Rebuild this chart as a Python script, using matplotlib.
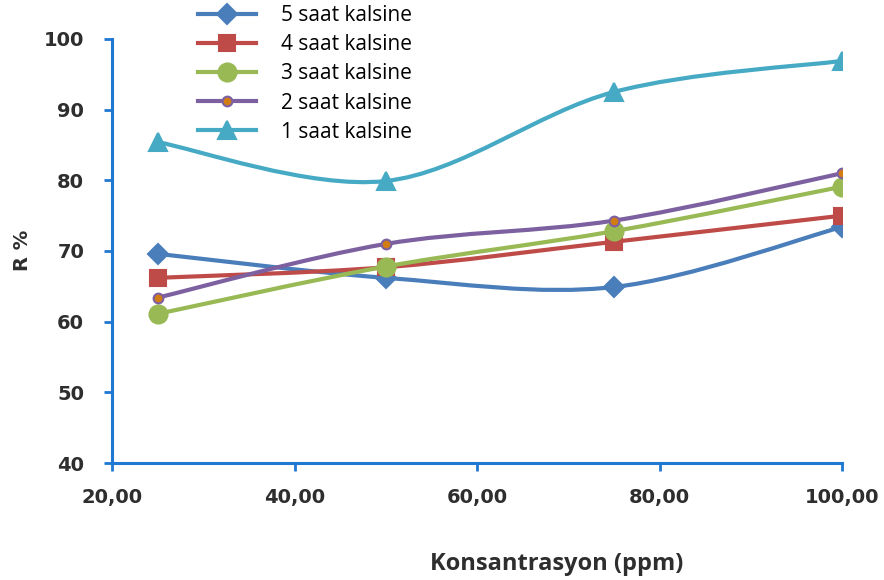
import matplotlib
matplotlib.use("Agg")
import matplotlib.pyplot as plt
import numpy as np
from matplotlib.path import Path
from matplotlib.patches import PathPatch
from matplotlib.lines import Line2D
from matplotlib.ticker import FuncFormatter

# concentration (ppm) and removal R % for each calcination time
konsantrasyon = [25, 50, 75, 100]
saat5 = [69.6, 66.2, 64.9, 73.4]
saat4 = [66.2, 67.7, 71.3, 75.0]
saat3 = [61.1, 67.8, 72.8, 79.1]
saat2 = [63.4, 71.0, 74.3, 81.0]
saat1 = [85.4, 79.9, 92.5, 96.9]
etiketler = ["5 saat kalsine", "4 saat kalsine", "3 saat kalsine",
             "2 saat kalsine", "1 saat kalsine"]

spine_color = "#1f78d1"
text_color = "#2e2e2e"

styles = [
    dict(color="#4a7ebb", marker="D", ms=10.5, mfc="#4a7ebb", mec="#4a7ebb"),
    dict(color="#be4b48", marker="s", ms=12, mfc="#be4b48", mec="#be4b48"),
    dict(color="#98b954", marker="o", ms=13, mfc="#98b954", mec="#98b954"),
    dict(color="#7d60a0", marker="o", ms=7, mfc="#d27c12", mec="#7d60a0"),
    dict(color="#46aac5", marker="^", ms=13, mfc="#46aac5", mec="#46aac5"),
]


def smooth_path(xs, ys):
    # bezier segments like a spreadsheet "smoothed line"
    pts = np.column_stack([xs, ys]).astype(float)
    n = len(pts)
    verts = [pts[0]]
    codes = [Path.MOVETO]
    for i in range(n - 1):
        p0 = pts[i - 1] if i > 0 else pts[i]
        p1 = pts[i]
        p2 = pts[i + 1]
        p3 = pts[i + 2] if i + 2 < n else pts[i + 1]
        c1 = p1 + (p2 - p0) / 6.0
        c2 = p2 - (p3 - p1) / 6.0
        verts += [c1, c2, p2]
        codes += [Path.CURVE4] * 3
    return Path(verts, codes)


fig = plt.figure(figsize=(8.84, 5.8), dpi=100)
ax = fig.add_axes([0.1267, 0.2017, 0.8258, 0.7311])

series = [saat5, saat4, saat3, saat2, saat1]
handles = []
for vals, st, lab in zip(series, styles, etiketler):
    patch = PathPatch(smooth_path(konsantrasyon, vals), fill=False,
                      edgecolor=st["color"], lw=3, capstyle="round",
                      joinstyle="round", zorder=2)
    ax.add_patch(patch)
    ax.plot(konsantrasyon, vals, linestyle="none", marker=st["marker"],
            ms=st["ms"], mfc=st["mfc"], mec=st["mec"], mew=1.5, zorder=3)
    handles.append(Line2D([], [], color=st["color"], lw=3, marker=st["marker"],
                          ms=st["ms"], mfc=st["mfc"], mec=st["mec"], mew=1.5))

ax.set_xlim(20, 100)
ax.set_ylim(40, 100)
ax.set_xticks([20, 40, 60, 80, 100])
ax.set_yticks([40, 50, 60, 70, 80, 90, 100])
ax.xaxis.set_major_formatter(FuncFormatter(lambda v, p: f"{v:.2f}".replace(".", ",")))

for s in ["top", "right"]:
    ax.spines[s].set_visible(False)
for s in ["left", "bottom"]:
    ax.spines[s].set_color(spine_color)
    ax.spines[s].set_linewidth(2.2)

ax.tick_params(axis="both", direction="out", color=spine_color, width=2,
               length=6, labelcolor=text_color)
ax.tick_params(axis="y", pad=14)
ax.tick_params(axis="x", pad=12)
for t in ax.get_yticklabels() + ax.get_xticklabels():
    t.set_fontfamily("DejaVu Sans")
    t.set_fontweight("bold")
    t.set_fontsize(14)

ax.set_xlabel("Konsantrasyon (ppm)", fontfamily="Open Sans", fontweight="bold",
              fontsize=17, color=text_color, va="center")
ax.xaxis.set_label_coords(0.609, -0.237)
ax.set_ylabel("R %", fontfamily="DejaVu Sans", fontweight="bold",
              fontsize=14, color=text_color)
ax.yaxis.set_label_coords(-0.1096, 0.502)

leg = fig.legend(handles, etiketler, loc="upper left",
                 bbox_to_anchor=(0.212, 1.009), frameon=False,
                 prop={"family": "Open Sans", "size": 15}, handlelength=2.8,
                 handletextpad=1.2, labelspacing=0.39, borderpad=0)

fig.savefig("out.png", dpi=100)
